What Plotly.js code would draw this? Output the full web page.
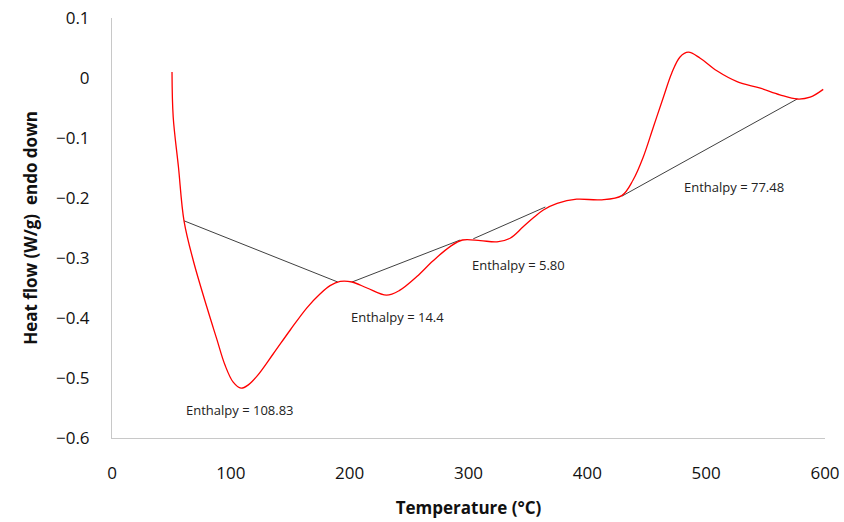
<!DOCTYPE html>
<html>
<head>
<meta charset="utf-8">
<script src="https://cdn.plot.ly/plotly-3.0.1.min.js"></script>
<style>html,body{margin:0;padding:0;background:#fff;}#chart{width:844px;height:522px;}</style>
</head>
<body>
<div id="chart"></div>
<script>
// DSC curve (temperature °C, heat flow W/g)
const temperature = [50.5, 51.5, 55.9, 60.6, 68.5, 80, 88, 95, 102, 108.6, 115, 122, 135.6, 150, 164, 175, 183.5, 192, 202, 214.6, 231, 242, 256.5, 270, 284.5, 295, 310, 324, 335, 346, 354.6, 363, 374.6, 391, 411, 429, 438.5, 447, 455.5, 464, 471, 478, 485, 495, 509, 526, 545.6, 562, 576.6, 587.5, 598.5];
const heatFlow = [0.01, -0.065, -0.148, -0.238, -0.305, -0.383, -0.434, -0.478, -0.507, -0.517, -0.511, -0.497, -0.46, -0.42, -0.383, -0.36, -0.346, -0.339, -0.34, -0.35, -0.362, -0.354, -0.331, -0.305, -0.281, -0.27, -0.271, -0.273, -0.267, -0.248, -0.233, -0.22, -0.209, -0.202, -0.203, -0.196, -0.17, -0.132, -0.082, -0.032, 0.008, 0.035, 0.043, 0.033, 0.012, -0.006, -0.017, -0.028, -0.035, -0.032, -0.019];

// integration baselines
const base1T = [60.6, 190], base1H = [-0.238, -0.34];
const base2T = [202, 293], base2H = [-0.34, -0.27];
const base3T = [304, 364.7], base3H = [-0.268, -0.215];
const base4T = [429, 576.6], base4H = [-0.197, -0.035];

// enthalpy labels
const labelText = ["Enthalpy = 108.83", "Enthalpy = 14.4", "Enthalpy = 5.80", "Enthalpy = 77.48"];
const labelT = [107.7, 240, 342, 523];
const labelH = [-0.553, -0.398, -0.312, -0.181];

const font = "Open Sans, Noto Sans, sans-serif";
const baseStyle = {color: '#404040', width: 1};
const traces = [
  {x: base1T, y: base1H, mode: 'lines', line: baseStyle, hoverinfo: 'skip'},
  {x: base2T, y: base2H, mode: 'lines', line: baseStyle, hoverinfo: 'skip'},
  {x: base3T, y: base3H, mode: 'lines', line: baseStyle, hoverinfo: 'skip'},
  {x: base4T, y: base4H, mode: 'lines', line: baseStyle, hoverinfo: 'skip'},
  {x: temperature, y: heatFlow, mode: 'lines', line: {color: '#ff0000', width: 1.3, shape: 'spline', smoothing: 1}}
];

const annotations = labelText.map((t, i) => ({
  x: labelT[i], y: labelH[i], text: t, showarrow: false,
  font: {family: font, size: 13, color: '#222'}, xanchor: 'center', yanchor: 'middle'
}));

const layout = {
  width: 844, height: 522,
  margin: {l: 112, r: 19, t: 18, b: 84},
  paper_bgcolor: '#fff', plot_bgcolor: '#fff',
  showlegend: false,
  annotations: annotations,
  xaxis: {
    range: [0, 600], dtick: 100, tick0: 0, showgrid: false, zeroline: false,
    showline: true, linecolor: '#c8c8c8', linewidth: 1, ticks: '',
    ticklabelstandoff: 20,
    tickfont: {family: font, size: 17, color: '#111'},
    title: {text: '<b>Temperature (°C)</b>', font: {family: font, size: 17, color: '#111'}, standoff: 18}
  },
  yaxis: {
    range: [-0.6, 0.1], dtick: 0.1, tick0: 0, showgrid: false, zeroline: false,
    showline: true, linecolor: '#c8c8c8', linewidth: 1, ticks: '',
    ticklabelstandoff: 18,
    tickfont: {family: font, size: 17, color: '#111'},
    title: {text: '<b>Heat flow (W/g)  endo down</b>', font: {family: font, size: 17, color: '#111'}, standoff: 14}
  }
};

Plotly.newPlot('chart', traces, layout, {displayModeBar: false, staticPlot: true});
</script>
</body>
</html>
